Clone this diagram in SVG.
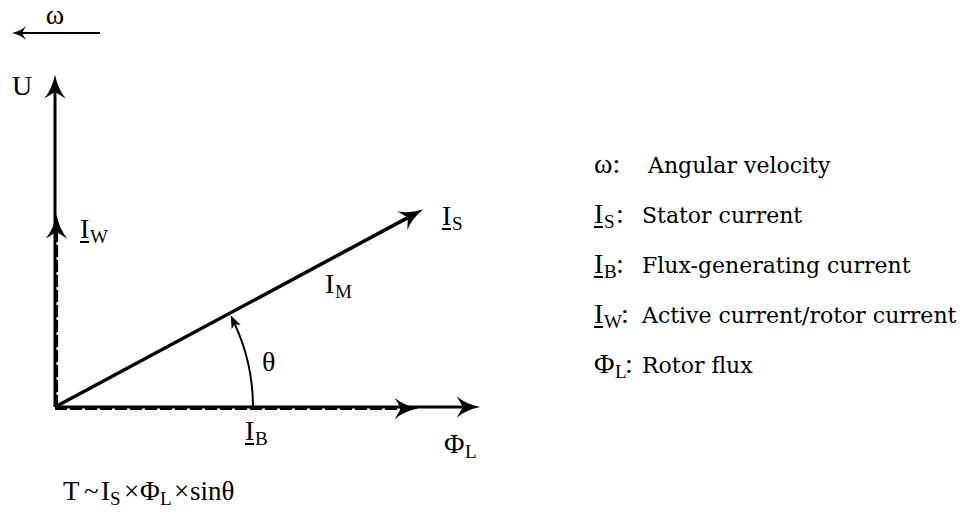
<svg xmlns="http://www.w3.org/2000/svg" width="964" height="521" viewBox="0 0 964 521">
<style>
.sym{font-family:"Liberation Serif","Times New Roman",serif;font-size:28px;fill:#000}
.fx{font-family:"Liberation Serif","Times New Roman",serif;font-size:27px;fill:#000}
.sub{font-family:"Liberation Serif","Times New Roman",serif;font-size:19px;fill:#000}
.leg{font-family:"DejaVu Serif","Liberation Serif",serif;font-size:22px;fill:#000}
.ax{stroke:#000;stroke-width:3;fill:none}
.vec{stroke:#000;stroke-width:3.5;fill:none}
.dash{stroke:#000;stroke-width:3.2;fill:none;stroke-dasharray:12 3}
.ul{stroke:#000;stroke-width:2}
</style>
<defs>
<marker id="big" markerUnits="userSpaceOnUse" markerWidth="30" markerHeight="30" viewBox="-2 -12 28 24" refX="6" refY="0" orient="auto">
<path d="M0,-10 Q8,-3 22,0 Q8,3 0,10 L6,0 Z" fill="#000"/>
</marker>
<marker id="small" markerUnits="userSpaceOnUse" markerWidth="20" markerHeight="20" viewBox="-2 -8 20 16" refX="4" refY="0" orient="auto">
<path d="M0,-7 Q5,-2 14,0 Q5,2 0,7 L4,0 Z" fill="#000"/>
</marker>
<marker id="arc" markerUnits="userSpaceOnUse" markerWidth="20" markerHeight="20" viewBox="-2 -8 20 16" refX="3" refY="0" orient="auto">
<path d="M0,-5 L13,0 L0,5 L3,0 Z" fill="#000"/>
</marker>
</defs>

<g id="connectors">
<line id="omega-arrow" x1="100" y1="33" x2="22" y2="33" stroke="#000" stroke-width="2" marker-end="url(#small)"/>
<line id="u-axis" x1="55" y1="407" x2="55" y2="92" class="ax" marker-end="url(#big)"/>
<line id="phi-axis" x1="55" y1="407" x2="463" y2="407" class="ax" marker-end="url(#big)"/>
<line id="iw" x1="56.5" y1="407" x2="56.5" y2="232" class="dash" marker-end="url(#big)"/>
<line id="ib" x1="55" y1="408.5" x2="401" y2="408.5" class="dash" marker-end="url(#big)"/>
<line id="is" x1="55" y1="407" x2="407.9" y2="217.6" class="vec" marker-end="url(#big)"/>
<path id="theta-arc" d="M253,407 A198,198 0 0 0 234.9,324.3" stroke="#000" stroke-width="2" fill="none" marker-end="url(#arc)"/>
</g>

<g id="label-omega"><text x="55" y="24" class="sym" text-anchor="middle">ω</text></g>
<g id="label-u"><text x="12" y="95" class="sym">U</text></g>
<g id="label-iw"><text x="80" y="238" class="sym">I</text><text x="90" y="243" class="sub">W</text><line x1="80" y1="242" x2="89" y2="242" class="ul"/></g>
<g id="label-is"><text x="442" y="225" class="sym">I</text><text x="452" y="230" class="sub">S</text><line x1="442" y1="229" x2="451" y2="229" class="ul"/></g>
<g id="label-im"><text x="325" y="293" class="sym">I</text><text x="335" y="298" class="sub">M</text></g>
<g id="label-theta"><text x="262" y="371" class="sym">θ</text></g>
<g id="label-ib"><text x="245" y="440" class="sym">I</text><text x="255" y="445" class="sub">B</text><line x1="245" y1="444" x2="254" y2="444" class="ul"/></g>
<g id="label-phi"><text x="444" y="453" class="sym">Φ</text><text x="465" y="458" class="sub">L</text></g>

<g id="formula">
<text x="63" y="500" class="fx">T</text>
<text x="84" y="500" class="fx">~</text>
<text x="101" y="500" class="fx">I</text><text x="110" y="505" class="sub">S</text>
<text x="124" y="500" class="fx">×</text>
<text x="140" y="500" class="fx">Φ</text><text x="160" y="505" class="sub">L</text>
<text x="174" y="500" class="fx">×</text>
<text x="190" y="500" class="fx">sinθ</text>
</g>

<g id="legend">
<g id="leg-omega"><text x="594" y="173" class="sym">ω:</text><text x="648" y="173" class="leg">Angular velocity</text></g>
<g id="leg-is"><text x="594" y="223" class="sym">I</text><text x="604" y="228" class="sub">S</text><text x="616" y="223" class="sym">:</text><line x1="594" y1="227" x2="603" y2="227" class="ul"/><text x="642" y="223" class="leg">Stator current</text></g>
<g id="leg-ib"><text x="594" y="273" class="sym">I</text><text x="604" y="278" class="sub">B</text><text x="616" y="273" class="sym">:</text><line x1="594" y1="277" x2="603" y2="277" class="ul"/><text x="642" y="273" class="leg">Flux-generating current</text></g>
<g id="leg-iw"><text x="594" y="323" class="sym">I</text><text x="604" y="328" class="sub">W</text><text x="621" y="323" class="sym">:</text><line x1="594" y1="327" x2="603" y2="327" class="ul"/><text x="642" y="323" class="leg">Active current/rotor current</text></g>
<g id="leg-phi"><text x="594" y="373" class="sym">Φ</text><text x="615" y="378" class="sub">L</text><text x="625" y="373" class="sym">:</text><text x="642" y="373" class="leg">Rotor flux</text></g>
</g>
</svg>
